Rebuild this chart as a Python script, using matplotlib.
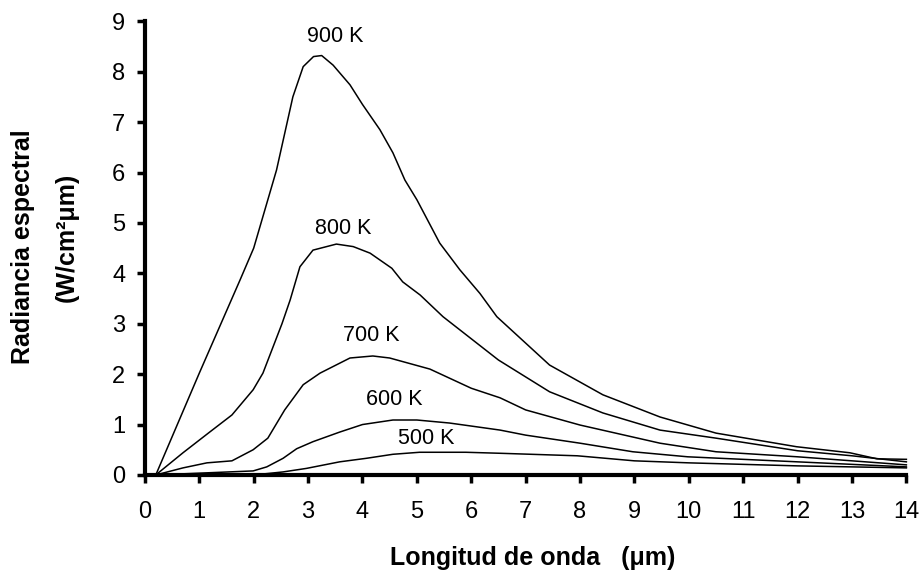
import matplotlib
matplotlib.use("Agg")
import matplotlib.pyplot as plt

plt.rcParams['font.family'] = ['Liberation Sans', 'DejaVu Sans']

# datos (longitud de onda en um, radiancia en W/cm2um)
x_900 = [0.2, 1.0, 1.75, 2.0, 2.42, 2.72, 2.91, 3.1, 3.25, 3.46, 3.77, 4.0, 4.32, 4.56,
         4.78, 5.0, 5.42, 5.79, 6.16, 6.47, 7.44, 8.42, 9.47, 10.5, 11.98, 12.96, 13.46, 14.0]
y_900 = [0, 2.02, 3.87, 4.5, 6.05, 7.5, 8.1, 8.3, 8.32, 8.13, 7.74, 7.35, 6.85, 6.39,
         5.85, 5.46, 4.6, 4.07, 3.6, 3.14, 2.18, 1.59, 1.15, 0.83, 0.56, 0.44, 0.32, 0.31]

x_800 = [0.2, 0.7, 1.19, 1.6, 1.99, 2.17, 2.52, 2.67, 2.85, 3.09, 3.52, 3.83, 4.14, 4.54,
         4.74, 5.06, 5.48, 6.5, 7.44, 8.42, 9.47, 10.5, 12.0, 13.0, 14.0]
y_800 = [0, 0.44, 0.85, 1.19, 1.69, 2.02, 3.0, 3.47, 4.13, 4.46, 4.58, 4.53, 4.4, 4.1,
         3.83, 3.57, 3.14, 2.28, 1.65, 1.23, 0.89, 0.73, 0.48, 0.38, 0.26]

x_700 = [0.2, 0.7, 1.14, 1.6, 1.99, 2.26, 2.57, 2.91, 3.22, 3.77, 4.19, 4.5, 5.24, 5.6,
         6.0, 6.53, 7.0, 8.0, 9.47, 10.5, 12.0, 14.0]
y_700 = [0, 0.14, 0.24, 0.28, 0.5, 0.73, 1.29, 1.79, 2.02, 2.32, 2.36, 2.32, 2.1, 1.92,
         1.72, 1.53, 1.29, 0.99, 0.63, 0.46, 0.36, 0.2]

x_600 = [0.2, 1.99, 2.24, 2.54, 2.79, 3.09, 3.58, 4.0, 4.56, 5.0, 5.6, 6.0, 6.53, 7.0,
         8.0, 8.97, 9.98, 12.0, 14.0]
y_600 = [0, 0.08, 0.16, 0.33, 0.52, 0.66, 0.85, 1.0, 1.09, 1.09, 1.03, 0.97, 0.89, 0.79,
         0.63, 0.46, 0.36, 0.26, 0.16]

x_500 = [0.2, 2.0, 2.54, 2.97, 3.58, 4.07, 4.56, 5.05, 5.9, 6.53, 7.95, 9.0, 10.0, 12.0, 14.0]
y_500 = [0, 0.0, 0.06, 0.13, 0.26, 0.33, 0.41, 0.45, 0.45, 0.43, 0.38, 0.28, 0.24, 0.18, 0.14]

labels = ['900 K', '800 K', '700 K', '600 K', '500 K']
label_x = [3.5, 3.64, 4.17, 4.58, 5.17]
label_y = [8.7, 4.88, 2.76, 1.49, 0.73]

fig = plt.figure(figsize=(9.23, 5.75), dpi=100)
ax = fig.add_axes([0.157, 0.174, 0.825, 0.789])

for xs, ys in [(x_900, y_900), (x_800, y_800), (x_700, y_700), (x_600, y_600), (x_500, y_500)]:
    ax.plot(xs, ys, color='black', linewidth=1.1, clip_on=False)

for lab, lx, ly in zip(labels, label_x, label_y):
    ax.text(lx, ly, lab, fontsize=15.5, ha='center', va='center')

ax.set_xlim(0, 14)
ax.set_ylim(0, 9)
ax.set_xticks(range(0, 15))
ax.set_yticks(range(0, 10))
ax.spines['top'].set_visible(False)
ax.spines['right'].set_visible(False)
ax.spines['left'].set_linewidth(3)
ax.spines['bottom'].set_linewidth(3)
ax.tick_params(direction='out', length=6, width=2.5, labelsize=17)
ax.tick_params(axis='x', pad=13)
ax.tick_params(axis='y', pad=8)

fig.text(533 / 923, 1 - 558 / 575, 'Longitud de onda   (μm)', fontsize=18,
         fontweight='bold', ha='center', va='center')
fig.text(23 / 923, 1 - 247 / 575, 'Radiancia espectral', fontsize=18,
         fontweight='bold', rotation=90, ha='center', va='center')
fig.text(67 / 923, 1 - 237 / 575, '(W/cm²μm)', fontsize=18,
         fontweight='bold', rotation=90, ha='center', va='center')

fig.savefig('out.png', dpi=100)
